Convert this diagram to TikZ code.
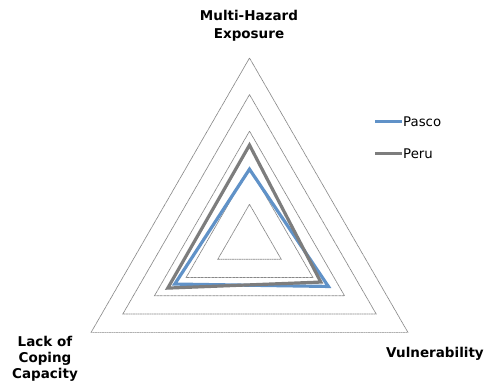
\documentclass[tikz,border=0pt]{standalone}
\usepackage{fontspec}
\setmainfont{DejaVu Sans}
\usetikzlibrary{calc}
\definecolor{pasco}{RGB}{96,146,200}
\definecolor{peru}{RGB}{125,125,125}
\definecolor{gridc}{RGB}{135,135,135}
\tikzset{
  gridline/.style={draw=gridc, line width=0.7pt, dash pattern=on 1pt off 0.4pt},
  series/.style={line width=3.2pt, line join=miter},
  axislabel/.style={font=\fontsize{13.5}{17.5}\selectfont\bfseries, align=center, inner sep=0pt},
  legendtext/.style={font=\fontsize{13.3}{15}\selectfont, inner sep=0pt, anchor=base west},
}
\begin{document}
\begin{tikzpicture}[x=1pt,y=-1pt]
\useasboundingbox (0,0) rectangle (487,381);
\coordinate (C) at (249.5,240.9);
\foreach \k in {1,...,5} {
  \draw[gridline] ($(C)+(270:\k*36.58)$) -- ($(C)+(30:\k*36.58)$) -- ($(C)+(150:\k*36.58)$) -- cycle;
}
% Pasco
\coordinate (pa1) at ($(C)+(270:1.96*36.58)$);
\coordinate (pa2) at ($(C)+(30:2.49*36.58)$);
\coordinate (pa3) at ($(C)+(150:2.36*36.58)$);
\draw[series, pasco] (pa1) -- (pa2) -- (pa3) -- cycle;
% Peru
\coordinate (pe1) at ($(C)+(270:2.62*36.58)$);
\coordinate (pe2) at ($(C)+(30:2.25*36.58)$);
\coordinate (pe3) at ($(C)+(150:2.58*36.58)$);
\draw[series, peru] (pe1) -- (pe2) -- (pe3) -- cycle;
% axis labels
\node[axislabel] (mhe) at (249,26) {Multi-Hazard\\Exposure};
\node[axislabel, font=\fontsize{13.5}{16.3}\selectfont\bfseries] (lcc) at (45,359) {Lack of\\Coping\\Capacity};
\node[axislabel, anchor=base] (vul) at (435,357.7) {Vulnerability};
% legend
\coordinate (l1a) at (375,121.7);
\coordinate (l1b) at (402,121.7);
\draw[series, pasco] (l1a) -- (l1b);
\node[legendtext] (t1) at (403,126.7) {Pasco};
\coordinate (l2a) at (375,153.3);
\coordinate (l2b) at (402,153.3);
\draw[series, peru] (l2a) -- (l2b);
\node[legendtext] (t2) at (403,158.3) {Peru};
\end{tikzpicture}
\end{document}
